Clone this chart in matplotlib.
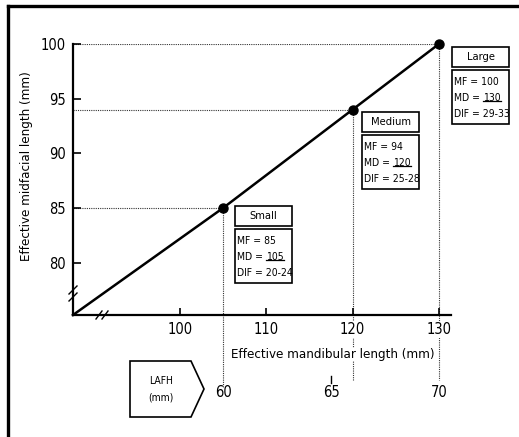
import numpy as np
import matplotlib
matplotlib.use("Agg")
import matplotlib.pyplot as plt
from matplotlib.lines import Line2D
from matplotlib.patches import Rectangle, Polygon

# -------------------------------------------------
# Data
# -------------------------------------------------

groups = ["Small", "Medium", "Large"]
mandibular = [105, 120, 130]          # effective mandibular length (mm)
midfacial = [85, 94, 100]             # effective midfacial length (mm)
mf_text = ["85", "94", "100"]
md_text = ["105", "120", "130"]
dif_text = ["20-24", "25-28", "29-33"]

x_ticks = [100, 110, 120, 130]
y_ticks = [80, 85, 90, 95, 100]

lafh_ticks = [60, 65, 70]
lafh_pos = [105, 117.5, 130]          # where each LAFH value sits on the mandibular scale

# -------------------------------------------------
# Figure setup
# -------------------------------------------------

W, H = 519, 437

plt.rcParams["font.family"] = ["DejaVu Sans"]
plt.rcParams["font.stretch"] = "condensed"

fig = plt.figure(figsize=(W / 100, H / 100), dpi=100)
ax = fig.add_axes([73 / W, 1 - 315 / H, 378 / W, 271 / H])


def fx(px):
    return px / W


def fy(py):
    return 1 - py / H


ax.set_xlim(87.6, 131.4)
ax.set_ylim(75.2, 100)

for side in ["top", "right"]:
    ax.spines[side].set_visible(False)
for side in ["left", "bottom"]:
    ax.spines[side].set_linewidth(1.6)

ax.set_xticks(x_ticks)
ax.set_yticks(y_ticks)
ax.tick_params(direction="in", length=5, width=1.2, labelsize=10.5, pad=5)
ax.tick_params(axis="y", length=6)

for lab in ax.get_xticklabels():
    lab.set_bbox(dict(facecolor="white", edgecolor="none", pad=0.5))
    lab.set_zorder(5)

ax.set_xlabel("Effective mandibular length (mm)", fontsize=9.5,
              bbox=dict(facecolor="white", edgecolor="none", pad=0.3))
ax.xaxis.label.set_zorder(5)
ax.xaxis.set_label_coords(0.688, -0.122)
ax.set_ylabel("Effective midfacial length (mm)", fontsize=9.5)
ax.yaxis.set_label_coords(-0.106, 0.55)

# -------------------------------------------------
# Dotted guide lines
# -------------------------------------------------

x0, x1 = ax.get_xlim()
y0, y1 = ax.get_ylim()
vtrans = ax.get_xaxis_transform()
v_ends = [-0.266, -0.24, -0.24]

for xv, yv, ye in zip(mandibular, midfacial, v_ends):
    ax.plot([x0, xv], [yv, yv], color="#333333", lw=0.8,
            linestyle=(0, (1, 1)), zorder=1)
    yfrac = (yv - y0) / (y1 - y0)
    ax.plot([xv, xv], [yfrac, ye], color="#333333", lw=0.8,
            linestyle=(0, (1, 1)), transform=vtrans, clip_on=False, zorder=1)

# -------------------------------------------------
# Main line and points
# -------------------------------------------------

line_x = [x0] + mandibular
line_y = [y0] + midfacial
ax.plot(line_x, line_y, color="black", lw=1.8, zorder=3, clip_on=False)
ax.plot(mandibular, midfacial, "o", color="black", markersize=6.5,
        zorder=4, clip_on=False)

# -------------------------------------------------
# Axis breaks
# -------------------------------------------------

for py in [290, 297]:
    fig.add_artist(Line2D([fx(69), fx(77)], [fy(py + 4), fy(py - 4)],
                          color="black", lw=1.0))
for px in [99, 105]:
    fig.add_artist(Line2D([fx(px - 3), fx(px + 3)], [fy(319), fy(311)],
                          color="black", lw=1.0))

# -------------------------------------------------
# Group boxes
# -------------------------------------------------

box_left = [235, 362, 452]
box_top = [206, 112, 47]
box_w = 57
fs_box = 7.5

md_labels = []
md_numbers = []

for i, name in enumerate(groups):
    bl = box_left[i]
    bt = box_top[i]
    fig.add_artist(Rectangle((fx(bl), fy(bt + 20)), box_w / W, 20 / H,
                             transform=fig.transFigure, facecolor="white",
                             edgecolor="black", lw=1.2))
    fig.text(fx(bl + box_w / 2), fy(bt + 10), name, ha="center",
             va="center", fontsize=8)
    fig.add_artist(Rectangle((fx(bl), fy(bt + 77)), box_w / W, 54 / H,
                             transform=fig.transFigure, facecolor="white",
                             edgecolor="black", lw=1.2))
    fig.text(fx(bl + 2), fy(bt + 35), "MF = " + mf_text[i], ha="left",
             va="center", fontsize=fs_box)
    md_labels.append(fig.text(fx(bl + 2), fy(bt + 51), "MD =", ha="left",
                              va="center", fontsize=fs_box))
    md_numbers.append(fig.text(fx(bl + 2), fy(bt + 51), md_text[i],
                               ha="left", va="center", fontsize=fs_box))
    fig.text(fx(bl + 2), fy(bt + 67), "DIF = " + dif_text[i], ha="left",
             va="center", fontsize=fs_box)

# place the MD numbers after the label and underline them
fig.canvas.draw()
renderer = fig.canvas.get_renderer()
for lab, num in zip(md_labels, md_numbers):
    lb = lab.get_window_extent(renderer)
    num.set_x((lb.x1 + 3) / W)
fig.canvas.draw()
for num in md_numbers:
    nb = num.get_window_extent(renderer)
    uy = nb.y0 + 0.18 * nb.height
    fig.add_artist(Line2D([nb.x0 / W, nb.x1 / W], [uy / H, uy / H],
                          color="black", lw=0.9))

# -------------------------------------------------
# LAFH scale
# -------------------------------------------------

arrow = Polygon([(fx(130), fy(361)), (fx(191), fy(361)), (fx(204), fy(389)),
                 (fx(191), fy(417)), (fx(130), fy(417))],
                closed=True, transform=fig.transFigure, facecolor="white",
                edgecolor="black", lw=1.2)
fig.add_artist(arrow)
fig.text(fx(161), fy(381), "LAFH", ha="center", va="center", fontsize=7.5)
fig.text(fx(161), fy(398), "(mm)", ha="center", va="center", fontsize=7.5)

for val, pos in zip(lafh_ticks, lafh_pos):
    ax.text(pos, -0.286, str(val), transform=vtrans, ha="center",
            va="center", fontsize=10.5)
    if val == 65:
        ax.plot([pos, pos], [-0.225, -0.25], color="black", lw=1.0,
                transform=vtrans, clip_on=False)

# -------------------------------------------------
# Outer frame (top and left only)
# -------------------------------------------------

fig.add_artist(Line2D([fx(8), 1], [fy(6), fy(6)], color="black", lw=2.4))
fig.add_artist(Line2D([fx(8), fx(8)], [fy(6), 0], color="black", lw=2.4))

fig.savefig("out.png", dpi=100)
plt.close()
